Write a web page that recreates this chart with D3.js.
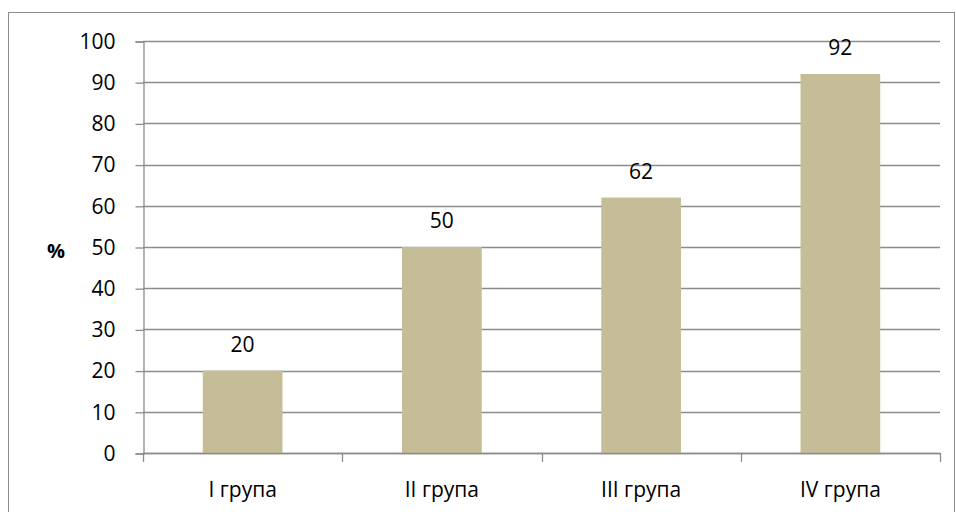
<!DOCTYPE html>
<html>
<head>
<meta charset="utf-8">
<script src="https://cdn.jsdelivr.net/npm/d3@7"></script>
<style>
  html, body { margin: 0; padding: 0; background: #fff; }
  svg { display: block; font-family: "Open Sans", "Liberation Sans", sans-serif; }
</style>
</head>
<body>
<svg id="chart" width="956" height="512"></svg>
<script>
// Share of patients per group, %
const categories = ["I група", "II група", "III група", "IV група"];
const values = [20, 50, 62, 92];
const yTicks = [0, 10, 20, 30, 40, 50, 60, 70, 80, 90, 100];
const yAxisTitle = "%";

const FONT = "Open Sans, Liberation Sans, sans-serif";
const FS = 21;
const svg = d3.select("#chart");
const W = 956, H = 512;
const plot = { left: 143, right: 940, top: 41, bottom: 453 };

// chart frame
svg.append("rect")
  .attr("x", 8.5).attr("y", 12.5)
  .attr("width", W - 10).attr("height", H - 6)
  .attr("fill", "#fff").attr("stroke", "#8c8c8c").attr("stroke-width", 1);

const x = d3.scaleBand()
  .domain(categories)
  .range([plot.left, plot.right])
  .paddingInner(0.6)
  .paddingOuter(0.3);

const y = d3.scaleLinear().domain([0, 100]).range([plot.bottom, plot.top]);

// horizontal gridlines
svg.append("g")
  .selectAll("line")
  .data(yTicks)
  .join("line")
  .attr("x1", plot.left).attr("x2", plot.right)
  .attr("y1", d => Math.round(y(d)) + 0.5).attr("y2", d => Math.round(y(d)) + 0.5)
  .attr("stroke", "#8c8c8c").attr("stroke-width", 1.3);

// bars
svg.append("g")
  .selectAll("rect")
  .data(values)
  .join("rect")
  .attr("x", (d, i) => x(categories[i]))
  .attr("y", d => y(d))
  .attr("width", x.bandwidth())
  .attr("height", d => y(0) - y(d))
  .attr("fill", "#c4bd97");

// value labels
svg.append("g")
  .selectAll("text")
  .data(values)
  .join("text")
  .attr("x", (d, i) => x(categories[i]) + x.bandwidth() / 2)
  .attr("y", d => y(d) - 19)
  .attr("text-anchor", "middle")
  .attr("font-family", FONT)
  .attr("font-size", FS)
  .attr("fill", "#000")
  .text(d => d);

// y axis
const yAxis = d3.axisLeft(y).tickValues(yTicks).tickSize(8).tickPadding(20);
const gy = svg.append("g")
  .attr("transform", `translate(${plot.left + 0.5},0.5)`)
  .call(yAxis);
gy.select(".domain").attr("stroke", "#8c8c8c").attr("stroke-width", 1.3);
gy.selectAll(".tick line").attr("stroke", "#8c8c8c").attr("stroke-width", 1.3);
gy.selectAll(".tick text")
  .attr("font-size", FS).attr("fill", "#000")
  .attr("font-family", FONT);

// x axis line and category separators
const edgeX = d3.range(categories.length + 1)
  .map(i => plot.left + i * (plot.right - plot.left) / categories.length);
const gx = svg.append("g");
gx.append("line")
  .attr("x1", plot.left).attr("x2", plot.right)
  .attr("y1", Math.round(y(0)) + 0.5).attr("y2", Math.round(y(0)) + 0.5)
  .attr("stroke", "#8c8c8c").attr("stroke-width", 1.3);
gx.selectAll("line.sep")
  .data(edgeX)
  .join("line")
  .attr("class", "sep")
  .attr("x1", d => Math.round(d) + 0.5).attr("x2", d => Math.round(d) + 0.5)
  .attr("y1", Math.round(y(0))).attr("y2", Math.round(y(0)) + 9)
  .attr("stroke", "#8c8c8c").attr("stroke-width", 1.3);
gx.selectAll("text")
  .data(categories)
  .join("text")
  .attr("x", d => x(d) + x.bandwidth() / 2)
  .attr("y", 497)
  .attr("text-anchor", "middle")
  .attr("font-family", FONT)
  .attr("font-size", FS)
  .attr("fill", "#000")
  .text(d => d);

// y axis title
svg.append("text")
  .attr("x", 56).attr("y", 258)
  .attr("text-anchor", "middle")
  .attr("font-family", FONT)
  .attr("font-size", 20)
  .attr("font-weight", "bold")
  .attr("fill", "#000")
  .text(yAxisTitle);
</script>
</body>
</html>
